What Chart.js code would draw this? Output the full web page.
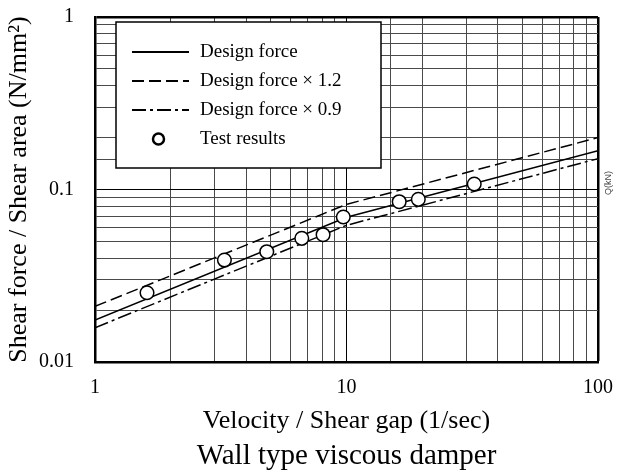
<!DOCTYPE html>
<html>
<head>
<meta charset="utf-8">
<script src="https://cdn.jsdelivr.net/npm/chart.js@4"></script>
<style>
  html, body { margin: 0; padding: 0; background: #fff; }
  #wrap { width: 619px; height: 476px; }
</style>
</head>
<body>
<div id="wrap"><canvas id="chart" width="619" height="476"></canvas></div>
<script>
// Measured shear stress of the wall type viscous damper against shear-rate
const testVelocity = [1.61, 3.27, 4.82, 6.64, 8.07, 9.71, 16.2, 19.3, 32.2];
const testStress   = [0.0252, 0.039, 0.0436, 0.0521, 0.0547, 0.0693, 0.085, 0.0877, 0.1076];

// Design force curve and its +20% / -10% bands
const designVelocity  = [1, 10, 100];
const designForce     = [0.0175, 0.069, 0.168];
const designForceHigh = [0.021, 0.082, 0.2];
const designForceLow  = [0.0158, 0.062, 0.151];

const xTickLabels = ['1', '10', '100'];
const yTickLabels = ['0.01', '0.1', '1'];

const SERIF = "'Liberation Serif', 'Times New Roman', serif";

const toPoints = (xs, ys) => xs.map((x, i) => ({ x, y: ys[i] }));

// Label only the powers of ten; the rest of the ticks just carry grid lines
function decadeLabel(value, labels, firstExp) {
  const e = Math.log10(value);
  const r = Math.round(e);
  if (Math.abs(e - r) > 1e-6) return '';
  return labels[r - firstExp] ?? '';
}
const isDecade = v => Math.abs(Math.log10(v) - Math.round(Math.log10(v))) < 1e-6;

// Boxed legend drawn inside the plot area
const boxedLegend = {
  id: 'boxedLegend',
  afterDraw(chart) {
    const { ctx, chartArea: a } = chart;
    const x0 = a.left + 21, y0 = a.top + 5, w = 265, h = 146;
    ctx.save();
    ctx.fillStyle = '#fff';
    ctx.fillRect(x0, y0, w, h);
    ctx.strokeStyle = '#000';
    ctx.lineWidth = 1.5;
    ctx.strokeRect(x0, y0, w, h);

    chart.data.datasets.forEach((ds, row) => {
      const cy = y0 + 30 + row * 29;
      if (ds.showLine) {
        ctx.beginPath();
        ctx.setLineDash(ds.borderDash || []);
        ctx.lineWidth = 2;
        ctx.strokeStyle = ds.borderColor;
        ctx.moveTo(x0 + 16, cy);
        ctx.lineTo(x0 + 73, cy);
        ctx.stroke();
        ctx.setLineDash([]);
      } else {
        ctx.beginPath();
        ctx.arc(x0 + 42.5, cy, 5.5, 0, Math.PI * 2);
        ctx.fillStyle = '#fff';
        ctx.fill();
        ctx.lineWidth = 2.5;
        ctx.strokeStyle = ds.borderColor;
        ctx.stroke();
      }
      ctx.fillStyle = '#000';
      ctx.font = '19px ' + SERIF;
      ctx.textBaseline = 'middle';
      ctx.textAlign = 'left';
      ctx.fillText(ds.label, x0 + 84, cy);
    });
    ctx.restore();
  }
};

// Small unit note set vertically beside the right frame
const sideNote = {
  id: 'sideNote',
  afterDraw(chart) {
    const { ctx, chartArea: a } = chart;
    ctx.save();
    ctx.translate(a.right + 11, 183);
    ctx.rotate(-Math.PI / 2);
    ctx.font = "9px 'Liberation Sans Narrow', 'Liberation Sans', sans-serif";
    ctx.fillStyle = '#444';
    ctx.textAlign = 'center';
    ctx.textBaseline = 'middle';
    ctx.fillText('Q(kN)', 0, 0);
    ctx.restore();
  }
};

const lineBase = {
  showLine: true,
  borderColor: '#000',
  borderWidth: 1.5,
  pointRadius: 0,
  pointHoverRadius: 0,
  fill: false,
  tension: 0,
  order: 1
};

const gridColor = c => (c.tick && isDecade(c.tick.value)) ? '#000' : '#4a4a4a';

new Chart(document.getElementById('chart'), {
  type: 'scatter',
  data: {
    datasets: [
      { ...lineBase, label: 'Design force', data: toPoints(designVelocity, designForce) },
      { ...lineBase, label: 'Design force × 1.2', data: toPoints(designVelocity, designForceHigh), borderDash: [12, 5] },
      { ...lineBase, label: 'Design force × 0.9', data: toPoints(designVelocity, designForceLow), borderDash: [14, 4, 3, 4] },
      {
        label: 'Test results',
        data: toPoints(testVelocity, testStress),
        showLine: false,
        pointStyle: 'circle',
        pointRadius: 6.8,
        pointHoverRadius: 6.8,
        borderWidth: 1.5,
        borderColor: '#000',
        backgroundColor: '#fff',
        order: 0
      }
    ]
  },
  options: {
    responsive: false,
    animation: false,
    devicePixelRatio: 1,
    layout: { padding: { top: 17, right: 21, bottom: 0, left: 0 } },
    plugins: {
      legend: { display: false },
      tooltip: { enabled: false },
      title: {
        display: true,
        fullSize: false,
        position: 'bottom',
        text: 'Wall type viscous damper',
        color: '#000',
        font: { family: SERIF, size: 29, weight: 'normal' },
        padding: { top: 0, bottom: 2 }
      }
    },
    scales: {
      x: {
        type: 'logarithmic',
        min: 1,
        max: 100,
        afterFit(scale) {
          scale.height = 77.2;
          scale.paddingLeft = 0;
          scale.paddingRight = 0;
        },
        border: { display: true, color: '#000', width: 2.5 },
        grid: {
          drawTicks: false,
          color: gridColor,
          lineWidth: c => (c.tick && Math.abs(c.tick.value - 100) < 1e-6) ? 2.5 : 1
        },
        ticks: {
          autoSkip: false,
          maxRotation: 0,
          padding: 14,
          color: '#000',
          font: { family: SERIF, size: 20 },
          callback: v => decadeLabel(v, xTickLabels, 0)
        },
        title: {
          display: true,
          text: 'Velocity / Shear gap (1/sec)',
          color: '#000',
          font: { family: SERIF, size: 26, weight: 'normal' },
          padding: { top: 0, bottom: 2 }
        }
      },
      y: {
        type: 'logarithmic',
        min: 0.01,
        max: 1,
        afterFit(scale) {
          scale.width = 95;
          scale.paddingTop = 0;
          scale.paddingBottom = 0;
        },
        border: { display: true, color: '#000', width: 2.5 },
        grid: {
          drawTicks: false,
          color: gridColor,
          lineWidth: c => (c.tick && Math.abs(c.tick.value - 1) < 1e-6) ? 2.5 : 1
        },
        ticks: {
          autoSkip: false,
          padding: 21,
          color: '#000',
          font: { family: SERIF, size: 20 },
          callback: v => decadeLabel(v, yTickLabels, -2)
        },
        title: {
          display: true,
          text: 'Shear force / Shear area (N/mm²)',
          color: '#000',
          font: { family: SERIF, size: 26, weight: 'normal' },
          padding: { top: 4, bottom: 0 }
        }
      }
    }
  },
  plugins: [boxedLegend, sideNote]
});
</script>
</body>
</html>
